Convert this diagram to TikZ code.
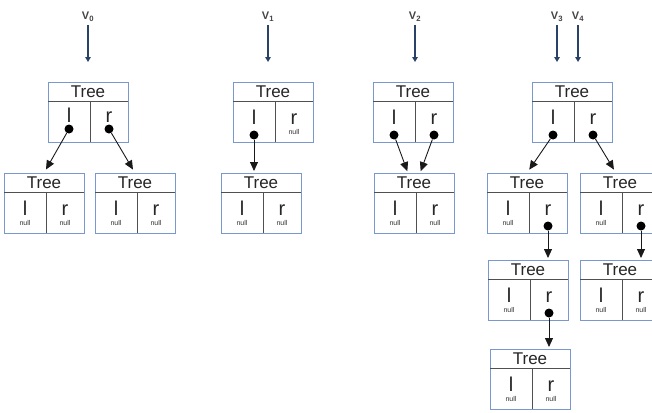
\documentclass[tikz,border=0pt]{standalone}
\usepackage{fontspec}
\setmainfont{Liberation Sans}
\usetikzlibrary{arrows.meta,calc}
\definecolor{boxblue}{HTML}{7A98D0}
\definecolor{rulegray}{HTML}{505050}
\definecolor{navy}{HTML}{2A4268}
\definecolor{labelgray}{HTML}{444444}

\tikzset{
  treebox/.style={draw=boxblue, line width=0.8pt, minimum width=80pt,
    minimum height=60pt, inner sep=0pt, outer sep=0pt},
  rule/.style={draw=rulegray, line width=0.7pt},
  head/.style={font=\fontsize{17}{17}\selectfont, inner sep=0pt, text=black!85},
  field/.style={font=\fontsize{20}{20}\selectfont, inner sep=0pt, text=black!85},
  nulltext/.style={font=\fontsize{7}{7}\selectfont, inner sep=0pt, text=black!80},
  ptr/.style={circle, fill=black, minimum size=9pt, inner sep=0pt},
  link/.style={draw=black!90, line width=0.9pt, -{Triangle[length=9pt,width=8pt]}},
  version/.style={draw=navy, line width=2.4pt, -{Triangle[length=5pt,width=5.5pt]}},
  vlabel/.style={font=\fontsize{11}{11}\selectfont\bfseries, text=labelgray, inner sep=0pt}
}

% a Tree record: [baseline of l/r], name, left edge, top edge
\newcommand\treenode[4][42]{%
  \node[treebox, anchor=north west] (#2) at (#3,#4) {};
  \draw[rule] ($(#2.north west)+(0,19)$) -- ($(#2.north east)+(0,19)$);
  \draw[rule] ($(#2.north west)+(42,19)$) -- ($(#2.south west)+(42,0)$);
  \node[head] (#2-head) at ($(#2.north west)+(40,10)$) {Tree};
  \node[field, anchor=base] (#2-l) at ($(#2.north west)+(21,#1)$) {l};
  \node[field, anchor=base] (#2-r) at ($(#2.north west)+(61,#1)$) {r};
}
% "null" under a field: tree, cell centre offset
\newcommand\nullcell[2]{%
  \node[nulltext, anchor=base] (#1-null#2) at ($(#1.north west)+(#2,52)$) {null};}
% pointer dot: [height], dot name, tree, cell centre offset
\newcommand\ptrcell[4][53]{%
  \node[ptr] (#2) at ($(#3.north west)+(#4,#1)$) {};}

\begin{document}
\begin{tikzpicture}[x=1pt,y=-1pt]
\path[use as bounding box, fill=white] (0,0) rectangle (652,412);
\clip (0,0) rectangle (652,412);

% version labels and their arrows
\node[vlabel] (v0) at (88,17) {V\textsubscript{0}};
\node[vlabel] (v1) at (268,17) {V\textsubscript{1}};
\node[vlabel] (v2) at (415,17) {V\textsubscript{2}};
\node[vlabel] (v3) at (557,17) {V\textsubscript{3}};
\node[vlabel] (v4) at (578,17) {V\textsubscript{4}};
\coordinate (v0e) at (88,62);
\coordinate (v1e) at (268,62);
\coordinate (v2e) at (415,62);
\coordinate (v3e) at (557,62);
\coordinate (v4e) at (578,62);
\foreach \v in {v0,v1,v2,v3,v4}
  \draw[version, shorten <=3pt] (\v.south) -- (\v e);

% V0
\treenode[40]{t0}{48}{82}
\ptrcell[47]{p0l}{t0}{21}
\ptrcell[47]{p0r}{t0}{61}
\treenode{c0a}{4}{173}
\nullcell{c0a}{21}\nullcell{c0a}{61}
\treenode{c0b}{95}{173}
\nullcell{c0b}{21}\nullcell{c0b}{61}
\draw[link, shorten >=4pt] (p0l) -- (c0a.north);
\draw[link, shorten >=4pt] (p0r) -- (c0b.north);

% V1
\treenode{t1}{233}{82}
\ptrcell{p1l}{t1}{21}
\nullcell{t1}{61}
\treenode{c1}{221}{173}
\nullcell{c1}{21}\nullcell{c1}{61}
\draw[link, shorten >=2pt] (p1l) -- (p1l |- c1.north);

% V2
\treenode{t2}{373}{82}
\ptrcell{p2l}{t2}{21}
\ptrcell{p2r}{t2}{61}
\treenode{c2}{374}{173}
\nullcell{c2}{21}\nullcell{c2}{61}
\draw[link, shorten >=2pt] (p2l) -- ([xshift=-6pt]c2.north);
\draw[link, shorten >=2pt] (p2r) -- ([xshift=6pt]c2.north);

% V3 and V4
\treenode{t3}{532}{82}
\ptrcell{p3l}{t3}{21}
\ptrcell{p3r}{t3}{61}
\treenode{c3a}{487}{173}
\nullcell{c3a}{21}
\ptrcell{p3ar}{c3a}{61}
\treenode{c3b}{580}{173}
\nullcell{c3b}{21}
\ptrcell{p3br}{c3b}{61}
\treenode{c3c}{488}{260}
\nullcell{c3c}{21}
\ptrcell{p3cr}{c3c}{61}
\treenode{c3d}{580}{260}
\nullcell{c3d}{21}\nullcell{c3d}{61}
\treenode{c3e}{490}{349}
\nullcell{c3e}{21}\nullcell{c3e}{61}
\draw[link, shorten >=4pt] (p3l) -- (c3a.north);
\draw[link, shorten >=4pt] (p3r) -- ([xshift=-4pt]c3b.north);
\draw[link, shorten >=2pt] (p3ar) -- (p3ar |- c3c.north);
\draw[link, shorten >=2pt] (p3br) -- (p3br |- c3d.north);
\draw[link, shorten >=2pt] (p3cr) -- (p3cr |- c3e.north);
\end{tikzpicture}
\end{document}
